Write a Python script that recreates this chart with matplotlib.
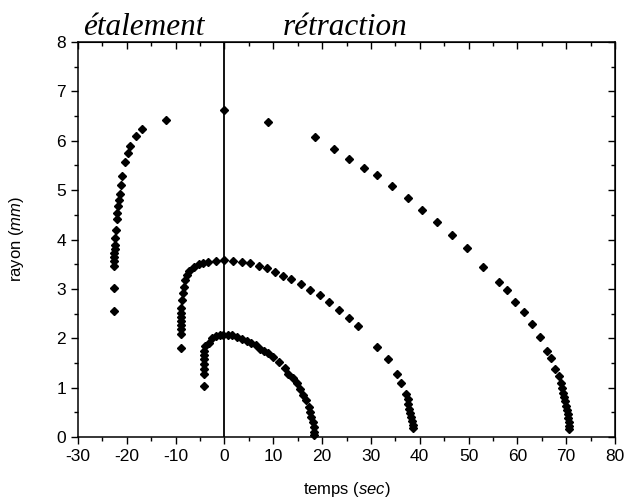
import matplotlib
matplotlib.use("Agg")
import matplotlib.pyplot as plt

plt.rcParams['font.family'] = ['Liberation Sans', 'DejaVu Sans']
plt.rcParams['mathtext.fontset'] = 'custom'
plt.rcParams['mathtext.it'] = 'Liberation Sans:italic'
plt.rcParams['mathtext.rm'] = 'Liberation Sans'
plt.rcParams['axes.unicode_minus'] = False

# grande goutte
t_grand = [-22.6, -22.6, -22.6, -22.6, -22.6, -22.6, -22.5, -22.5, -22.4, -22.3,
           -22.1, -22.0, -21.8, -21.7, -21.4, -21.2, -21.0, -20.4, -19.8, -19.3,
           -18.1, -16.9, -12.0, 0.0, 9.0, 18.5, 22.4, 25.6, 28.6, 31.3,
           34.3, 37.5, 40.5, 43.6, 46.7, 49.6, 53.0, 56.3, 57.9, 59.6,
           61.3, 63.0, 64.7, 66.0, 66.9, 67.8, 68.6, 69.0, 69.2, 69.4,
           69.6, 69.8, 70.0, 70.2, 70.3, 70.4, 70.5, 70.5, 70.5]
r_grand = [2.56, 3.01, 3.47, 3.57, 3.65, 3.72, 3.80, 3.88, 4.03, 4.19,
           4.41, 4.54, 4.67, 4.80, 4.93, 5.10, 5.28, 5.56, 5.76, 5.89,
           6.09, 6.23, 6.42, 6.62, 6.37, 6.07, 5.83, 5.63, 5.44, 5.30,
           5.09, 4.84, 4.60, 4.36, 4.09, 3.82, 3.45, 3.13, 2.98, 2.73,
           2.53, 2.28, 2.03, 1.75, 1.59, 1.37, 1.23, 1.10, 0.99, 0.90,
           0.81, 0.72, 0.63, 0.54, 0.46, 0.38, 0.30, 0.23, 0.17]

# goutte moyenne
t_moyen = [-9.0, -9.0, -9.0, -9.0, -9.0, -9.0, -9.0, -8.9, -8.7, -8.5,
           -8.3, -8.0, -7.6, -7.2, -6.3, -5.3, -4.4, -3.4, -1.8, 0.0,
           1.7, 3.6, 5.3, 7.1, 8.7, 10.3, 12.0, 13.7, 15.6, 17.5,
           19.5, 21.4, 23.5, 25.5, 27.3, 31.3, 33.4, 35.4, 36.2, 37.1,
           37.5, 37.7, 37.9, 38.1, 38.3, 38.5, 38.6, 38.7]
r_moyen = [1.80, 2.08, 2.18, 2.27, 2.35, 2.43, 2.51, 2.62, 2.77, 2.91,
           3.04, 3.18, 3.28, 3.37, 3.45, 3.50, 3.52, 3.54, 3.57, 3.58,
           3.57, 3.55, 3.52, 3.47, 3.42, 3.35, 3.27, 3.19, 3.10, 2.98,
           2.87, 2.73, 2.57, 2.42, 2.25, 1.83, 1.57, 1.27, 1.09, 0.88,
           0.76, 0.66, 0.57, 0.48, 0.40, 0.32, 0.25, 0.18]

# petite goutte
t_petit = [-4.1, -4.1, -4.1, -4.1, -4.1, -4.1, -4.1, -3.9, -3.2, -2.5,
           -1.8, -1.0, -0.2, 0.7, 1.6, 2.6, 3.6, 4.6, 5.5, 6.4,
           7.2, 8.1, 8.9, 10.0, 11.1, 12.3, 13.0, 14.0, 14.8, 15.4,
           16.1, 16.8, 17.3, 17.6, 17.8, 18.1, 18.3, 18.3, 18.3]
r_petit = [1.04, 1.28, 1.38, 1.48, 1.57, 1.66, 1.75, 1.84, 1.91, 2.00,
           2.04, 2.06, 2.07, 2.07, 2.06, 2.02, 1.98, 1.95, 1.91, 1.86,
           1.79, 1.75, 1.71, 1.63, 1.51, 1.39, 1.28, 1.19, 1.09, 0.97,
           0.85, 0.75, 0.61, 0.51, 0.41, 0.31, 0.21, 0.11, 0.04]

fig = plt.figure(figsize=(6.24, 5.03), dpi=100)
ax = fig.add_axes([78/624, 66/503, 537/624, 395/503])

for t, r in [(t_grand, r_grand), (t_moyen, r_moyen), (t_petit, r_petit)]:
    ax.plot(t, r, linestyle='none', marker='D', markersize=4.3,
            color='black', clip_on=False)

ax.axvline(0, color='black', linewidth=1.3)

ax.set_xlim(-30, 80)
ax.set_ylim(0, 8)
ax.set_xticks(range(-30, 81, 10))
ax.set_xticks(range(-25, 80, 10), minor=True)
ax.set_yticks(range(0, 9))
ax.set_yticks([i + 0.5 for i in range(8)], minor=True)
ax.tick_params(which='major', direction='out', length=5, width=1, labelsize=12.5,
               top=False, right=False)
ax.tick_params(which='minor', direction='out', length=3, width=1,
               top=False, right=False)
for s in ax.spines.values():
    s.set_linewidth(1.1)

# ticks du haut et de droite vers l'interieur
top = ax.secondary_xaxis('top')
top.set_xticks(range(-30, 81, 10))
top.set_xticks(range(-25, 80, 10), minor=True)
top.tick_params(which='major', direction='in', length=5, width=1, labeltop=False)
top.tick_params(which='minor', direction='in', length=3, width=1)
right = ax.secondary_yaxis('right')
right.set_yticks(range(0, 9))
right.set_yticks([i + 0.5 for i in range(8)], minor=True)
right.tick_params(which='major', direction='in', length=5, width=1, labelright=False)
right.tick_params(which='minor', direction='in', length=3, width=1)

ax.set_xlabel('temps $\\mathit{(sec)}$', fontsize=12, labelpad=12)
ax.set_ylabel('rayon $\\mathit{(mm)}$', fontsize=12, labelpad=22)

fig.text(144/624, 1 - 35/503, 'étalement', fontsize=22.5, style='italic',
         family='Liberation Serif', ha='center', va='baseline')
fig.text(345/624, 1 - 35/503, 'rétraction', fontsize=22.5, style='italic',
         family='Liberation Serif', ha='center', va='baseline')

fig.savefig('out.png', dpi=100)
